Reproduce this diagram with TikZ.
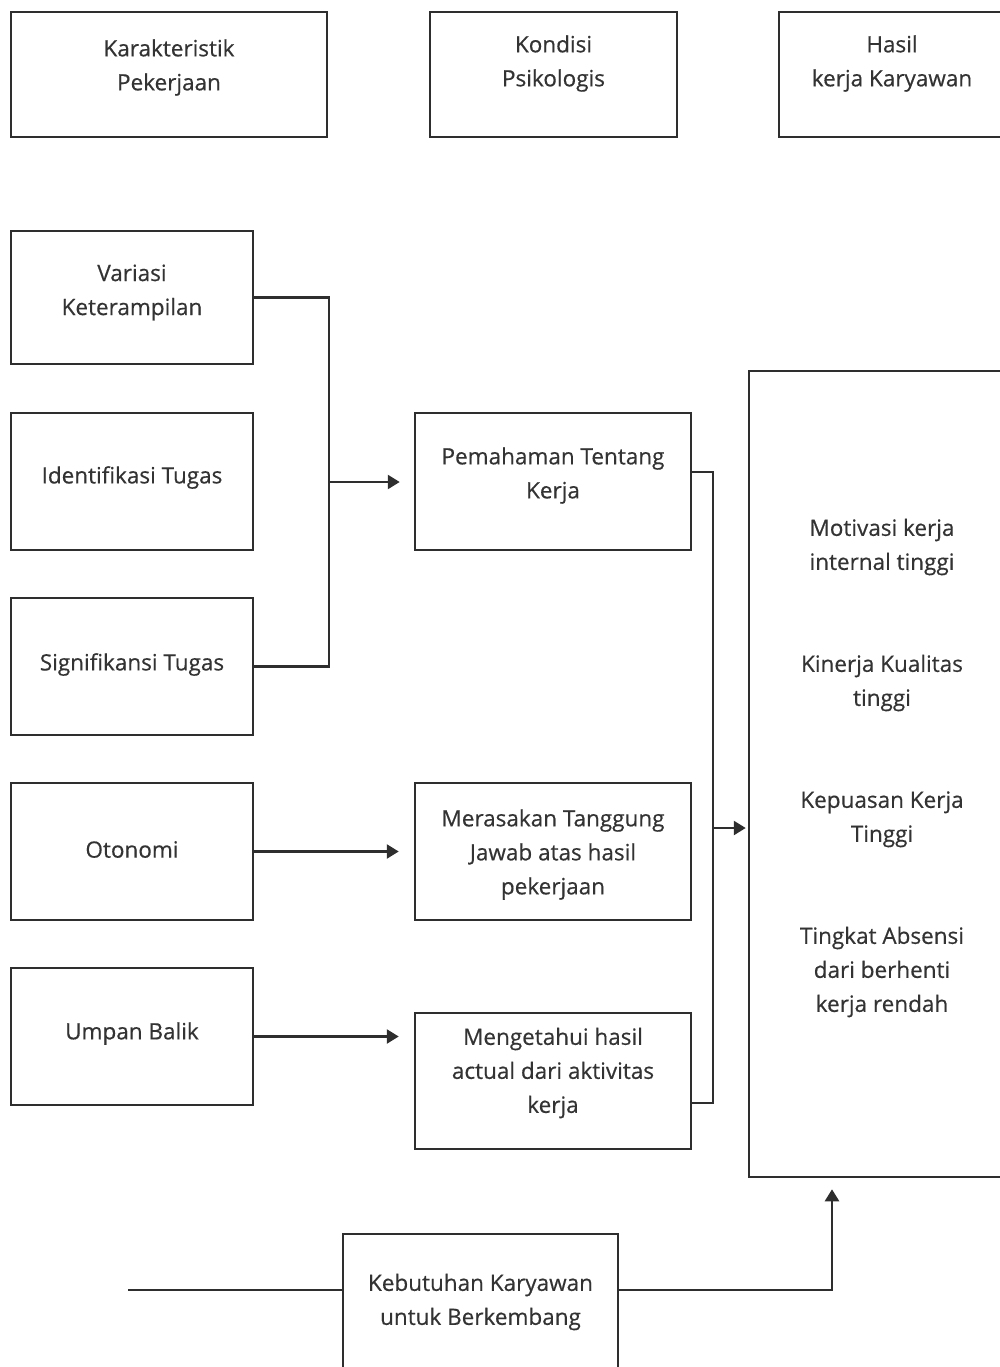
\documentclass[tikz,border=0pt]{standalone}
\usepackage{fontspec}
\setmainfont{Open Sans}[FakeBold=0.5]
\usetikzlibrary{arrows.meta}
\definecolor{ink}{HTML}{2E2E2E}
\definecolor{txt}{HTML}{333333}

\begin{document}
\begin{tikzpicture}[x=1pt,y=-1pt,
  box/.style={draw=ink,line width=2.5pt,inner sep=0pt},
  lbl/.style={text=txt,align=center,inner sep=0pt,font=\fontsize{22.5}{34}\selectfont},
  link/.style={draw=ink,line width=2.5pt},
  arr/.style={link,-{Triangle[length=12pt,width=14pt]}}]
\useasboundingbox (0,0) rectangle (1000,1367);
\clip (0,0) rectangle (1000,1367);

% headings
\node[box,minimum width=316pt,minimum height=125pt,label={[lbl,yshift=7pt]center:{Karakteristik\\Pekerjaan}}] (kar) at (169,74.5) {};
\node[box,minimum width=247pt,minimum height=125pt,label={[lbl,yshift=11pt]center:{Kondisi\\Psikologis}}] (kon) at (553.5,74.5) {};
\node[box,minimum width=226pt,minimum height=125pt,label={[lbl,yshift=11pt]center:{Hasil\\kerja Karyawan}}] (has) at (892,74.5) {};

% job characteristics
\node[box,minimum width=242pt,minimum height=133pt,label={[lbl,yshift=5pt]center:{Variasi\\Keterampilan}}] (var) at (132,297.5) {};
\node[box,minimum width=242pt,minimum height=137pt,label={[lbl,yshift=4pt]center:{Identifikasi Tugas}}] (idt) at (132,481.5) {};
\node[box,minimum width=242pt,minimum height=137pt,label={[lbl,yshift=2pt]center:{Signifikansi Tugas}}] (sig) at (132,666.5) {};
\node[box,minimum width=242pt,minimum height=137pt,label={[lbl,yshift=2pt]center:{Otonomi}}] (oto) at (132,851.5) {};
\node[box,minimum width=242pt,minimum height=137pt,label={[lbl,yshift=3pt]center:{Umpan Balik}}] (ump) at (132,1036.5) {};

% psychological states
\node[box,minimum width=276pt,minimum height=137pt,label={[lbl,yshift=6pt]center:{Pemahaman Tentang\\Kerja}}] (pem) at (553,481.5) {};
\node[box,minimum width=276pt,minimum height=137pt,label={[lbl,yshift=-3pt]center:{Merasakan Tanggung\\Jawab atas hasil\\pekerjaan}}] (mer) at (553,851.5) {};
\node[box,minimum width=276pt,minimum height=136pt,label={[lbl,yshift=8pt]center:{Mengetahui hasil\\actual dari aktivitas\\kerja}}] (mng) at (553,1081) {};

% outcomes
\node[box,minimum width=266pt,minimum height=806pt,label={[lbl,yshift=6pt]center:{Motivasi kerja\\internal tinggi\\[68pt]Kinerja Kualitas\\tinggi\\[68pt]Kepuasan Kerja\\Tinggi\\[68pt]Tingkat Absensi\\dari berhenti\\kerja rendah}}] (out) at (882,774) {};

% growth need
\node[box,minimum width=275pt,minimum height=146pt,label={[lbl,yshift=5pt]center:{Kebutuhan Karyawan\\untuk Berkembang}}] (keb) at (480.5,1307) {};

% connectors
\coordinate (j1) at (329,482);
\draw[link] (var.east) -| (j1) |- (sig.east);
\draw[arr] (j1) -- ([xshift=-14pt]j1 -| pem.west);
\draw[arr] (oto.east) -- ([xshift=-15pt]oto.east -| mer.west);
\draw[arr] (ump.east) -- ([xshift=-15pt]ump.east -| mng.west);

\coordinate (j2) at (713,828);
\draw[link] ([yshift=9.5pt]pem.east) -| (j2) |- ([yshift=-22pt]mng.east);
\draw[arr] (j2) -- ([xshift=-2pt]j2 -| out.west);

\coordinate (kin) at (128,1290);
\draw[link] (kin) -- (kin -| keb.west);
\draw[arr] (keb.east |- kin) -| ([xshift=-50pt,yshift=-11pt]out.south);

\end{tikzpicture}
\end{document}
